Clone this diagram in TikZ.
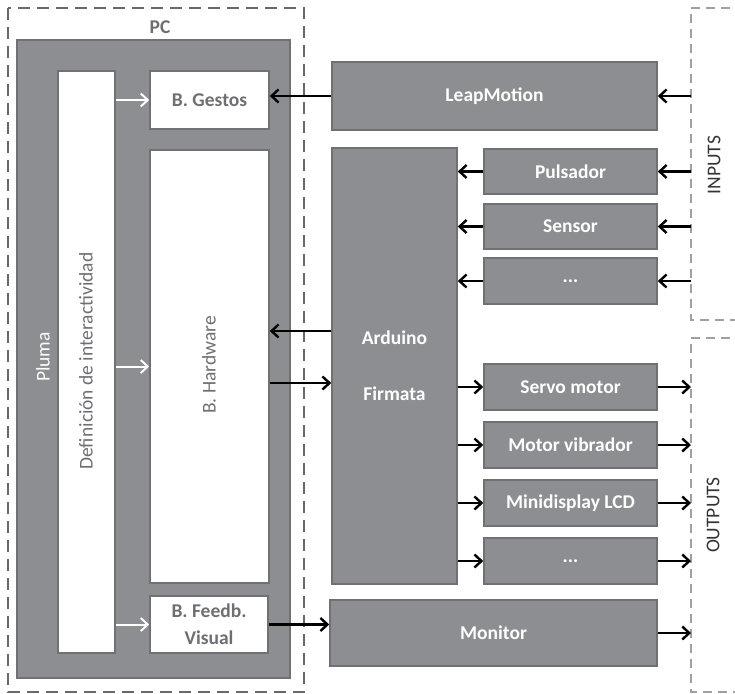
\documentclass[tikz,border=0pt]{standalone}
\usepackage{fontspec}
\setmainfont{Carlito}
\usetikzlibrary{arrows.meta}
\definecolor{caja}{RGB}{141,142,146}
\definecolor{borde}{RGB}{112,113,117}
\definecolor{txtgris}{RGB}{110,111,114}
\definecolor{marco}{RGB}{105,105,105}
\definecolor{marcoio}{RGB}{160,160,160}

\begin{document}
\begin{tikzpicture}[x=1pt, y=-1pt, font=\fontsize{19.5}{23}\selectfont,
                    b/.style={draw=borde, line width=1.6pt, fill=caja, inner sep=0pt,
                              text=white, font=\fontsize{19.5}{23}\selectfont\bfseries},
                    bw/.style={b, fill=white, text=txtgris},
                    rot/.style={rotate=90, inner sep=0pt},
                    fl/.style={line width=2.4pt, -{Straight Barb[length=7pt, width=13pt]}},
                    flw/.style={fl, white, line width=2pt},
                    pcmarco/.style={draw=marco, line width=2.8pt, dash pattern=on 12pt off 7pt},
                    iomarco/.style={draw=marcoio, line width=2pt, dash pattern=on 9pt off 6pt}]
  \clip (0,0) rectangle (735,693);
  % marcos discontinuos
  \draw[pcmarco] (8,8) rectangle (304,692);
  \draw[iomarco] (760,8) -- (691,8) -- (691,320) -- (760,320);
  \draw[iomarco] (760,338) -- (691,338) -- (691,692) -- (760,692);
  \coordinate (lim) at (691,0);
  \node[font=\fontsize{19.5}{23}\selectfont\bfseries, text=txtgris] (pc) at (160,27) {PC};
  \node[rot, text=black!80] (inputs) at (714,165) {INPUTS};
  \node[rot, text=black!80] (outputs) at (713,515) {OUTPUTS};
  % bloque PC
  \node[b, minimum width=273, minimum height=638] (pluma) at (153.5,359) {};
  \node[rot, text=white] (plumatxt) at (43,357) {Pluma};
  \node[bw, minimum width=57, minimum height=582] (defi) at (86.5,362) {};
  \node[rot, text=txtgris] (defitxt) at (86,361) {Definición de interactividad};
  \node[bw, minimum width=119, minimum height=58] (gestos) at (209.5,100) {B. Gestos};
  \node[bw, minimum width=119, minimum height=433] (hw) at (209.5,366.5) {};
  \node[rot, text=txtgris] (hwtxt) at (209,365) {B. Hardware};
  \node[bw, minimum width=118, minimum height=57, align=center] (feedb) at (209,624.5) {B. Feedb.\\[4pt]Visual};
  % dispositivos
  \node[b, minimum width=325, minimum height=68] (leap) at (494.5,96) {LeapMotion};
  \node[b, minimum width=125, minimum height=436, align=center] (ard) at (394.5,366) {Arduino\\[33pt]Firmata};
  \node[b, minimum width=173, minimum height=45] (puls) at (570.5,171.5) {Pulsador};
  \node[b, minimum width=173, minimum height=45] (sens) at (570.5,226.5) {Sensor};
  \node[b, minimum width=173, minimum height=46] (inmas) at (570.5,281) {...};
  \node[b, minimum width=173, minimum height=46] (servo) at (570.5,387) {Servo motor};
  \node[b, minimum width=173, minimum height=46] (vibr) at (570.5,445) {Motor vibrador};
  \node[b, minimum width=173, minimum height=46] (lcd) at (570.5,503) {Minidisplay LCD};
  \node[b, minimum width=173, minimum height=46] (outmas) at (570.5,561) {...};
  \node[b, minimum width=327, minimum height=66] (mon) at (493.5,633) {Monitor};
  % flechas blancas
  \draw[flw] (gestos.west -| defi.east) -- (gestos.west);
  \draw[flw] (hw.west -| defi.east) -- (hw.west);
  \draw[flw] (feedb.west -| defi.east) -- (feedb.west);
  % flechas negras
  \draw[fl] (leap.west) -- (leap.west -| gestos.east);
  \draw[fl] ([yshift=35pt]ard.west) -- ([yshift=35pt]ard.west -| hw.east);
  \draw[fl] ([yshift=-17pt]ard.west -| hw.east) -- ([yshift=-17pt]ard.west);
  \draw[fl] (feedb.east) -- (feedb.east -| mon.west);
  \foreach \n in {leap, puls, sens, inmas}
    \draw[fl] (\n.east -| lim) -- (\n.east);
  \foreach \n in {puls, sens, inmas}
    \draw[fl] (\n.west) -- (\n.west -| ard.east);
  \foreach \n in {servo, vibr, lcd, outmas} {
    \draw[fl] (\n.west -| ard.east) -- (\n.west);
    \draw[fl] (\n.east) -- (\n.east -| lim);
  }
  \draw[fl] (mon.east) -- (mon.east -| lim);
\end{tikzpicture}
\end{document}
